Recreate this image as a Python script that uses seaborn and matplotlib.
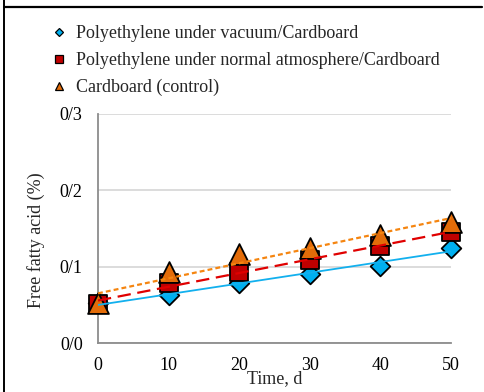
import numpy as np
import pandas as pd
import matplotlib
matplotlib.use("Agg")
import matplotlib.pyplot as plt
from matplotlib.lines import Line2D
import seaborn as sns

# Free fatty acid content over storage time for three packaging types
days = [0, 10, 20, 30, 40, 50]
vacuum = [0.052, 0.063, 0.078, 0.091, 0.101, 0.125]
normal_atm = [0.051, 0.079, 0.093, 0.109, 0.127, 0.145]
control = [0.052, 0.093, 0.116, 0.124, 0.142, 0.159]
series_names = [
    "Polyethylene under vacuum/Cardboard",
    "Polyethylene under normal atmosphere/Cardboard",
    "Cardboard (control)",
]
x_ticks = [0, 10, 20, 30, 40, 50]
y_ticks = [0.0, 0.1, 0.2, 0.3]
y_tick_labels = ["0/0", "0/1", "0/2", "0/3"]
x_label = "Time, d"
y_label = "Free fatty acid (%)"

sns.set_theme(style="white")
plt.rcParams["font.family"] = ["Liberation Serif", "DejaVu Serif"]

styles = [
    dict(marker="D", size=10, fill="#00B0F0", line="#12B0EE", ls="-", lw=1.3),
    dict(marker="s", size=13, fill="#C00000", line="#E00000", ls=(0, (6, 3)), lw=1.6),
    dict(marker="^", size=15, fill="#E36C09", line="#F58510", ls=(0, (2.2, 1.4)), lw=1.6),
]
values = [vacuum, normal_atm, control]

fig = plt.figure(figsize=(4.85, 3.92), dpi=100)
ax = fig.add_axes([98 / 485, 49 / 392, 353 / 485, 229 / 392])

# markers
for i, (vals, st) in enumerate(zip(values, styles)):
    sns.scatterplot(x=days, y=vals, ax=ax, marker=st["marker"], s=st["size"] ** 2,
                    color=st["fill"], edgecolor="black", linewidth=1.3,
                    clip_on=False, zorder=3 + i, legend=False)

# linear trend lines
for vals, st in zip(values, styles):
    sns.regplot(x=days, y=vals, ax=ax, scatter=False, ci=None, truncate=True,
                line_kws=dict(color=st["line"], lw=st["lw"], ls=st["ls"], zorder=10))

ax.set_xlim(0, 50)
ax.set_ylim(0, 0.3)
ax.set_xticks(x_ticks)
ax.set_xticklabels([str(t) for t in x_ticks])
ax.set_yticks(y_ticks)
ax.set_yticklabels(y_tick_labels)

for side in ["top", "right"]:
    ax.spines[side].set_visible(False)
for side in ["left", "bottom"]:
    ax.spines[side].set_color("#8C8C8C")
    ax.spines[side].set_linewidth(1.3)

ax.yaxis.grid(True, color="#D9D9D9", lw=1.3)
ax.xaxis.grid(False)
ax.set_axisbelow(True)
ax.tick_params(axis="both", direction="in", length=3.6, width=1.2, color="#8C8C8C",
               labelsize=13, labelcolor="black")
ax.tick_params(axis="x", pad=10)
ax.tick_params(axis="y", pad=11)

ax.set_xlabel(x_label, fontsize=13, labelpad=-2.5)
ax.set_ylabel(y_label, fontsize=13)
ax.yaxis.set_label_coords(-0.15, 0.45)

handles = [
    Line2D([], [], ls="none", marker=st["marker"], markersize=st["size"] * 0.42,
           markerfacecolor=st["fill"], markeredgecolor="black", markeredgewidth=0.9)
    for st in styles
]
fig.legend(handles, series_names, loc="upper left", bbox_to_anchor=(52 / 485, 1 - 25 / 392),
           frameon=False, fontsize=13, handlelength=0.8, handletextpad=0.55,
           labelspacing=0.55, borderpad=0, borderaxespad=0)

# outer frame edges
fig.add_artist(Line2D([4 / 485, 482 / 485], [1 - 7 / 392, 1 - 7 / 392],
                      transform=fig.transFigure, color="black", lw=1.6))
fig.add_artist(Line2D([4 / 485, 4 / 485], [0, 1], transform=fig.transFigure,
                      color="black", lw=1.4))

fig.savefig("out.png", dpi=100)
